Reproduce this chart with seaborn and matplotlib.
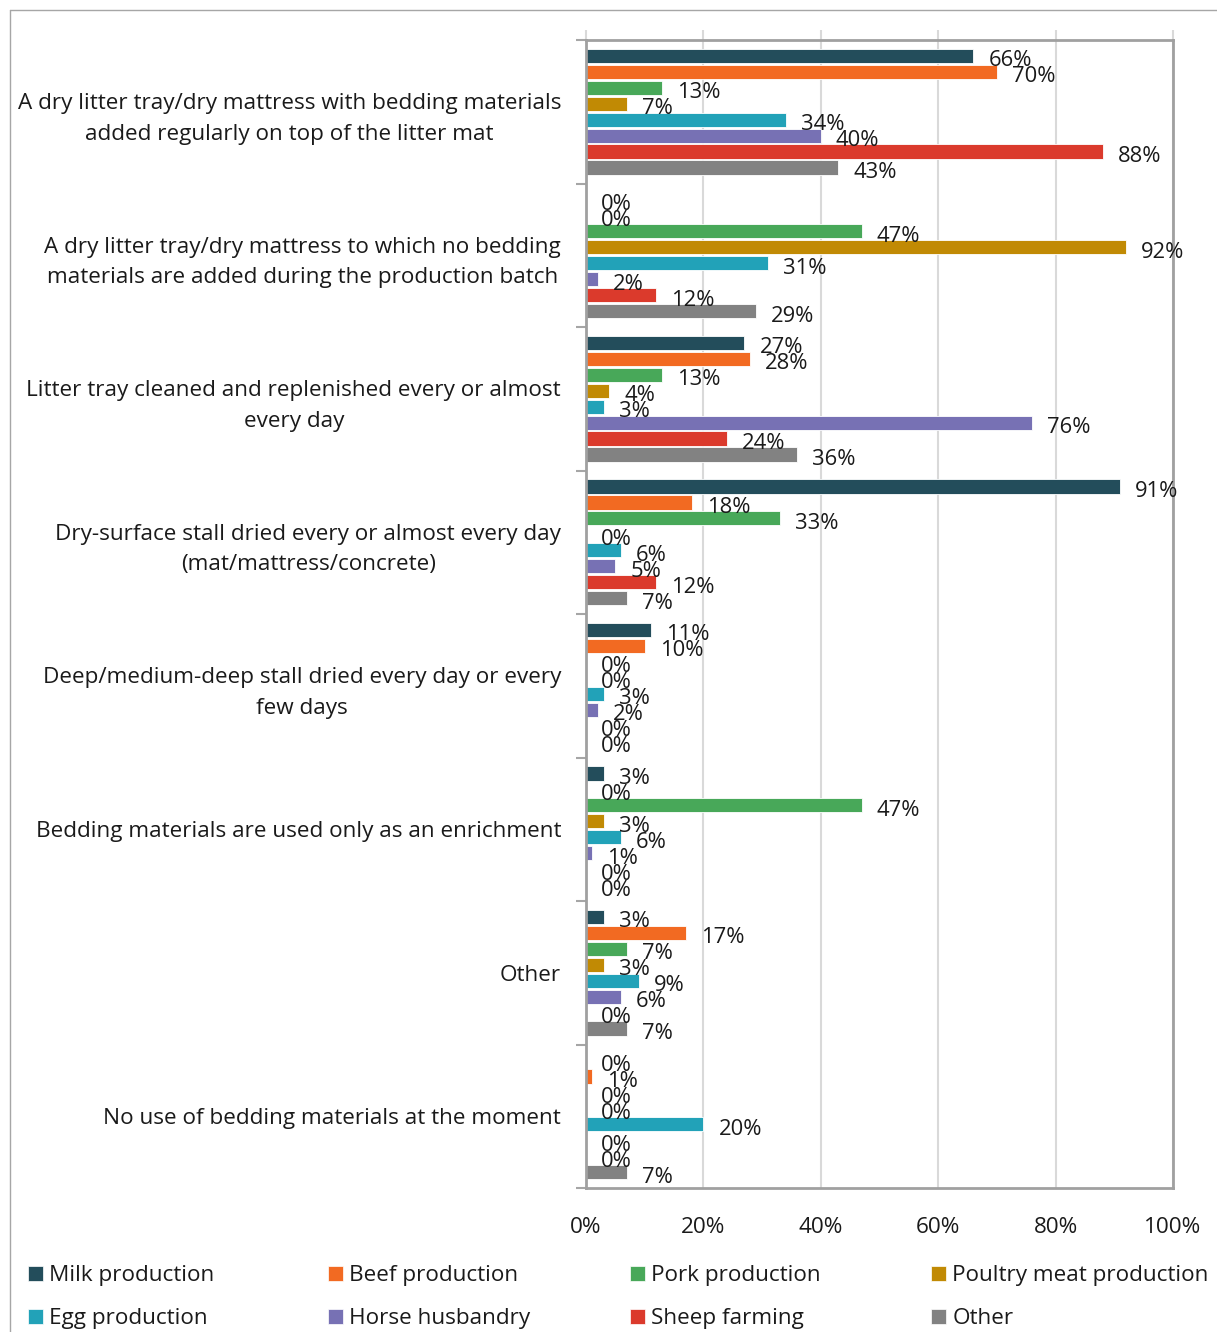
import matplotlib
matplotlib.use("Agg")
import matplotlib.pyplot as plt
from matplotlib.patches import Patch
from matplotlib.lines import Line2D
import seaborn as sns
import pandas as pd

# Bedding practices by production sector (% of respondents)
categories = [
    "A dry litter tray/dry mattress with bedding materials\nadded regularly on top of the litter mat",
    "A dry litter tray/dry mattress to which no bedding\nmaterials are added during the production batch",
    "Litter tray cleaned and replenished every or almost\nevery day",
    "Dry-surface stall dried every or almost every day\n(mat/mattress/concrete)",
    "Deep/medium-deep stall dried every day or every\nfew days",
    "Bedding materials are used only as an enrichment",
    "Other",
    "No use of bedding materials at the moment",
]
series = [
    "Milk production", "Beef production", "Pork production", "Poultry meat production",
    "Egg production", "Horse husbandry", "Sheep farming", "Other",
]
milk = [66, 0, 27, 91, 11, 3, 3, 0]
beef = [70, 0, 28, 18, 10, 0, 17, 1]
pork = [13, 47, 13, 33, 0, 47, 7, 0]
poultry = [7, 92, 4, 0, 0, 3, 3, 0]
egg = [34, 31, 3, 6, 3, 6, 9, 20]
horse = [40, 2, 76, 5, 2, 1, 6, 0]
sheep = [88, 12, 24, 12, 0, 0, 0, 0]
other = [43, 29, 36, 7, 0, 0, 7, 7]
colors = ["#234D5B", "#F26A22", "#48A859", "#C18A04",
          "#22A2B8", "#7771B4", "#DB3A2C", "#828282"]
x_ticks = [0, 20, 40, 60, 80, 100]
x_tick_labels = ["0%", "20%", "40%", "60%", "80%", "100%"]

values = [milk, beef, pork, poultry, egg, horse, sheep, other]
rows = []
for s, vals in zip(series, values):
    for c, v in zip(categories, vals):
        rows.append({"category": c, "series": s, "value": v})
df = pd.DataFrame(rows)

sns.set_theme(style="white")
plt.rcParams["font.family"] = ["Open Sans", "DejaVu Sans"]
text_color = "#1A1A1A"
font_size = 16.2
label_size = 15.8

fig = plt.figure(figsize=(12.17, 13.32), dpi=100)
ax = fig.add_axes([586 / 1217, 1 - 1188 / 1332, (1173 - 586) / 1217, (1188 - 40) / 1332])

sns.barplot(
    data=df, x="value", y="category", hue="series", orient="h",
    order=categories, hue_order=series, palette=colors, saturation=1,
    width=0.89, gap=0.1, edgecolor="white", linewidth=0.6,
    legend=False, ax=ax,
)

# value labels just past the end of every bar
for container in ax.containers:
    for patch in container.patches:
        w = patch.get_width()
        yc = patch.get_y() + patch.get_height() / 2
        ax.annotate(f"{w:.0f}%", (w, yc), xytext=(15, -5), textcoords="offset pixels",
                    ha="left", va="center", fontsize=label_size, color=text_color,
                    annotation_clip=False)

ax.set_xlim(0, 100)
ax.set_ylim(len(categories) - 0.5, -0.5)
ax.set_xlabel("")
ax.set_ylabel("")

# x axis: gridlines with small stubs above the frame
ax.set_xticks(x_ticks)
ax.set_xticklabels(x_tick_labels, fontsize=font_size, color=text_color)
ax.tick_params(axis="x", bottom=False, top=True, labelbottom=True, labeltop=False,
               length=7, width=1.5, color="#D9D9D9", pad=14)
ax.grid(axis="x", color="#D9D9D9", linewidth=1.5)
ax.set_axisbelow(True)

# y axis: tick marks between groups, labels centred on groups
ax.set_yticks([i - 0.5 for i in range(len(categories) + 1)])
ax.set_yticklabels([])
ax.set_yticks(range(len(categories)), minor=True)
ax.set_yticklabels(categories, minor=True, fontsize=font_size, color=text_color,
                   ha="right", multialignment="center", linespacing=1.6)
ax.tick_params(axis="y", which="major", left=True, length=7, width=1.5, color="#A6A6A6")
ax.tick_params(axis="y", which="minor", left=False, length=0, pad=18)

for side in ["left", "right", "top", "bottom"]:
    ax.spines[side].set_visible(True)
    ax.spines[side].set_color("#A0A0A0")
    ax.spines[side].set_linewidth(2)

# legend: four columns, two rows
col_x = [28 / 1217, 328 / 1217, 630 / 1217, 931 / 1217]
for i in range(4):
    handles = [Patch(facecolor=colors[j], edgecolor="white", linewidth=0.5, label=series[j])
               for j in (i, i + 4)]
    fig.legend(handles=handles, loc="upper left", bbox_to_anchor=(col_x[i], 1 - 1265 / 1332),
               frameon=False, fontsize=font_size, handlelength=0.65, handleheight=0.65,
               handletextpad=0.3, labelspacing=0.98, borderaxespad=0, borderpad=0,
               labelcolor=text_color)

# light outer frame
fig.add_artist(Line2D([10 / 1217, 10 / 1217], [0, 1 - 10 / 1332], transform=fig.transFigure,
                      color="#A6A6A6", linewidth=1))
fig.add_artist(Line2D([10 / 1217, 1], [1 - 10 / 1332, 1 - 10 / 1332], transform=fig.transFigure,
                      color="#A6A6A6", linewidth=1))

fig.savefig("out.png", dpi=100)
